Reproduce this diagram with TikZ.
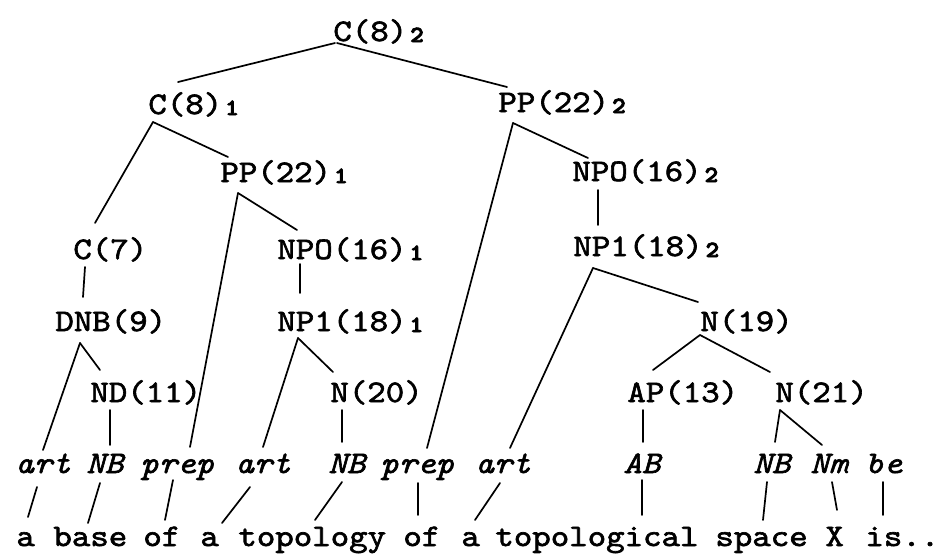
\documentclass[tikz,border=0pt]{standalone}
\usepackage{fontspec}
\setmainfont{lmmono10-regular.otf}[FakeStretch=1.12, FakeBold=2, ItalicFont=lmmono10-italic.otf, ItalicFeatures={FakeBold=2}, BoldFont=lmmonolt10-bold.otf, BoldFeatures={FakeBold=4}]
\newcommand\subidx[1]{\hspace{1.5pt}\raisebox{-0.5pt}{\fontsize{11.5}{11.5}\selectfont\bfseries #1}}
\tikzset{
  lbl/.style={inner sep=0pt, anchor=base west, font=\fontsize{15.7}{18}\selectfont},
  cat/.style={lbl, font=\fontsize{15.7}{18}\selectfont\itshape},
  wrd/.style={lbl},
  edge/.style={line width=0.85pt, line cap=round}
}
\begin{document}
\begin{tikzpicture}[x=0.5pt,y=-0.5pt]
\useasboundingbox (0,0) rectangle (944,553);
% phrase nodes
\node[lbl] (c82)  at (333,41)  {C(8)\subidx{2}};
\node[lbl] (c81)  at (148,114) {C(8)\subidx{1}};
\node[lbl] (pp1)  at (220,182) {PP(22)\subidx{1}};
\node[lbl] (pp2)  at (498,112) {PP(22)\subidx{2}};
\node[lbl] (c7)   at (73,259)  {C(7)};
\node[lbl] (npo1) at (277,259) {NPO(16)\subidx{1}};
\node[lbl] (npo2) at (572,181) {NPO(16)\subidx{2}};
\node[lbl] (np12) at (573,256) {NP1(18)\subidx{2}};
\node[lbl] (dnb)  at (55,331)  {DNB(9)};
\node[lbl] (np11) at (277,331) {NP1(18)\subidx{1}};
\node[lbl] (n19)  at (700,331) {N(19)};
\node[lbl] (nd)   at (90,402)  {ND(11)};
\node[lbl] (n20)  at (330,402) {N(20)};
\node[lbl] (ap)   at (627,402) {AP(13)};
\node[lbl] (n21)  at (775,402) {N(21)};
% categories
\node[cat] (ca1) at (15,473)  {art};
\node[cat] (cn1) at (86,473)  {NB};
\node[cat] (cp1) at (140,473) {prep};
\node[cat] (ca2) at (235,473) {art};
\node[cat] (cn2) at (328,473) {NB};
\node[cat] (cp2) at (380,473) {prep};
\node[cat] (ca3) at (475,473) {art};
\node[cat] (cab) at (623,473) {AB};
\node[cat] (cn3) at (753,473) {NB};
\node[cat] (cnm) at (810,473) {Nm};
\node[cat] (cbe) at (865,473) {be};
% words
\node[wrd] (w1)  at (16,546)  {a};
\node[wrd] (w2)  at (53,546)  {base};
\node[wrd] (w3)  at (143,546) {of};
\node[wrd] (w4)  at (200,546) {a};
\node[wrd] (w5)  at (238,546) {topology};
\node[wrd] (w6)  at (403,546) {of};
\node[wrd] (w7)  at (461,546) {a};
\node[wrd] (w8)  at (495,546) {topological};
\node[wrd] (w9)  at (715,546) {space};
\node[wrd] (w10) at (825,546) {X};
\node[wrd] (w11) at (865,546) {is..};
% tree edges
\draw[edge] ([shift={(2,2)}]c82.base west) -- ([shift={(30,-32)}]c81.base west);
\draw[edge] ([shift={(4,2)}]c82.base west) -- ([shift={(9,-25)}]pp2.base west);
\draw[edge] ([shift={(5,8)}]c81.base west) -- ([shift={(22,-36)}]c7.base west);
\draw[edge] ([shift={(5,8)}]c81.base west) -- ([shift={(8,-25)}]pp1.base west);
\draw[edge] ([shift={(18,11)}]pp1.base west) -- ([shift={(20,-29)}]npo1.base west);
\draw[edge] ([shift={(18,11)}]pp1.base west) -- ([shift={(50,-26)}]cp1.base west);
\draw[edge] ([shift={(12,8)}]c7.base west) -- ([shift={(28,-34)}]dnb.base west);
\draw[edge] ([shift={(23,5)}]npo1.base west) -- ([shift={(23,-38)}]np11.base west);
\draw[edge] ([shift={(25,12)}]dnb.base west) -- ([shift={(28,-23)}]ca1.base west);
\draw[edge] ([shift={(25,12)}]dnb.base west) -- ([shift={(10,-32)}]nd.base west);
\draw[edge] ([shift={(20,8)}]nd.base west) -- ([shift={(24,-28)}]cn1.base west);
\draw[edge] ([shift={(21,7)}]np11.base west) -- ([shift={(28,-26)}]ca2.base west);
\draw[edge] ([shift={(21,7)}]np11.base west) -- ([shift={(3,-30)}]n20.base west);
\draw[edge] ([shift={(12,8)}]n20.base west) -- ([shift={(14,-31)}]cn2.base west);
\draw[edge] ([shift={(15,11)}]pp2.base west) -- ([shift={(47,-25)}]cp2.base west);
\draw[edge] ([shift={(15,11)}]pp2.base west) -- ([shift={(16,-23)}]npo2.base west);
\draw[edge] ([shift={(26,9)}]npo2.base west) -- ([shift={(25,-31)}]np12.base west);
\draw[edge] ([shift={(20,12)}]np12.base west) -- ([shift={(35,-25)}]ca3.base west);
\draw[edge] ([shift={(20,12)}]np12.base west) -- ([shift={(-2,-29)}]n19.base west);
\draw[edge] ([shift={(0,4)}]n19.base west) -- ([shift={(26,-32)}]ap.base west);
\draw[edge] ([shift={(0,4)}]n19.base west) -- ([shift={(-5,-30)}]n21.base west);
\draw[edge] ([shift={(16,8)}]ap.base west) -- ([shift={(20,-31)}]cab.base west);
\draw[edge] ([shift={(5,8)}]n21.base west) -- ([shift={(22,-31)}]cn3.base west);
\draw[edge] ([shift={(5,8)}]n21.base west) -- ([shift={(12,-28)}]cnm.base west);
% category to word
\draw[edge] ([shift={(22,14)}]ca1.base west) -- ([shift={(12,-29)}]w1.base west);
\draw[edge] ([shift={(14,10)}]cn1.base west) -- ([shift={(35,-23)}]w2.base west);
\draw[edge] ([shift={(33,7)}]cp1.base west) -- ([shift={(22,-26)}]w3.base west);
\draw[edge] ([shift={(15,14)}]ca2.base west) -- ([shift={(22,-23)}]w4.base west);
\draw[edge] ([shift={(14,9)}]cn2.base west) -- ([shift={(77,-26)}]w5.base west);
\draw[edge] ([shift={(38,10)}]cp2.base west) -- ([shift={(15,-31)}]w6.base west);
\draw[edge] ([shift={(25,10)}]ca3.base west) -- ([shift={(14,-26)}]w7.base west);
\draw[edge] ([shift={(19,7)}]cab.base west) -- ([shift={(147,-31)}]w8.base west);
\draw[edge] ([shift={(14,9)}]cn3.base west) -- ([shift={(48,-26)}]w9.base west);
\draw[edge] ([shift={(22,9)}]cnm.base west) -- ([shift={(12,-36)}]w10.base west);
\draw[edge] ([shift={(18,9)}]cbe.base west) -- ([shift={(18,-31)}]w11.base west);
\end{tikzpicture}
\end{document}
